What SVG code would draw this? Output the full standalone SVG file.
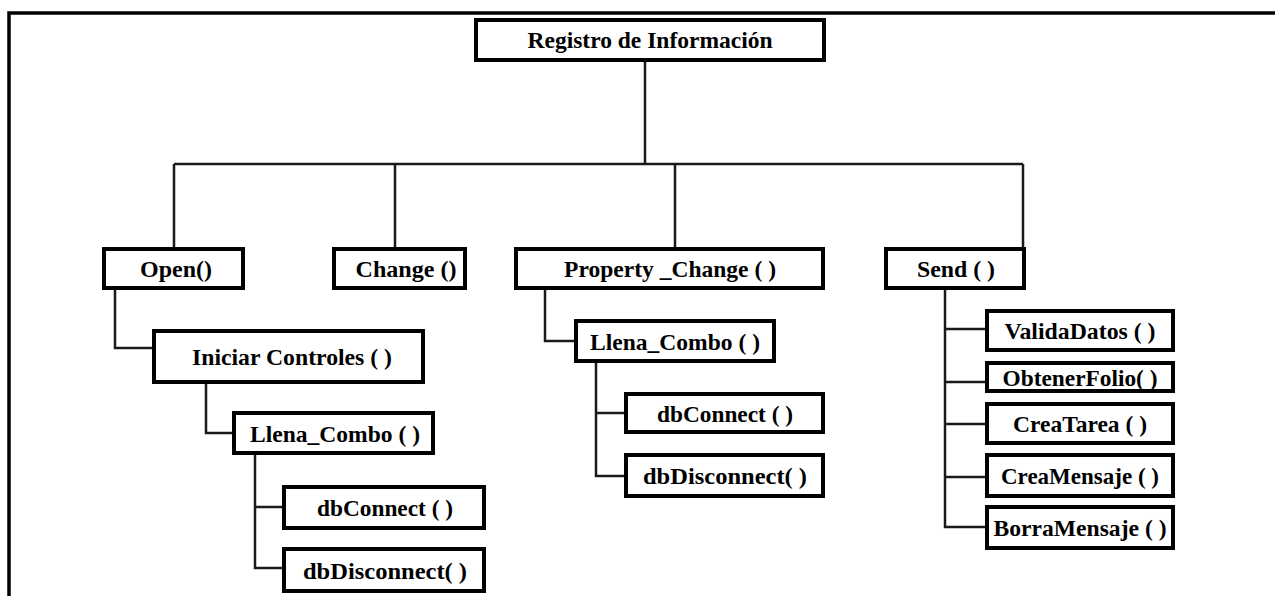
<svg xmlns="http://www.w3.org/2000/svg" width="1275" height="596" viewBox="0 0 1275 596">
  <style>
    .box { fill: #ffffff; stroke: #000000; stroke-width: 4; }
    .lbl { font-family: "Liberation Serif", "Times New Roman", serif; font-weight: bold; font-size: 24px; fill: #000000; text-anchor: middle; }
    .wire { fill: none; stroke: #1a1a1a; stroke-width: 2.5; }
    .frame { fill: none; stroke: #000000; stroke-width: 3.5; }
  </style>
  <rect x="0" y="0" width="1275" height="596" fill="#ffffff"/>
  <!-- page frame -->
  <path class="frame" d="M9,596 V13 H1275"/>

  <!-- connectors -->
  <g id="connectors">
    <path class="wire" d="M645,62 V164"/>
    <path class="wire" d="M174,164 H1023" stroke-width="3"/>
    <path class="wire" d="M174,164 V247 M395,164 V247 M675,164 V247 M1023,164 V247"/>
    <!-- Open branch -->
    <path class="wire" d="M115,290 V348 H153"/>
    <path class="wire" d="M206,384 V433 H233"/>
    <path class="wire" d="M255,455 V568 H283 M255,507 H283"/>
    <!-- Property_Change branch -->
    <path class="wire" d="M545,290 V341 H575"/>
    <path class="wire" d="M596,363 V476 H626 M596,413 H626"/>
    <!-- Send branch -->
    <path class="wire" d="M945,290 V527 H985 M945,329 H985 M945,382 H985 M945,424 H985 M945,477 H985"/>
  </g>

  <g id="root">
    <rect class="box" x="476" y="20" width="348" height="40"/>
    <text class="lbl" x="650" y="48" textLength="245" lengthAdjust="spacingAndGlyphs">Registro de Información</text>
  </g>
  <g id="open">
    <rect class="box" x="104" y="249" width="139" height="39"/>
    <text class="lbl" x="176" y="277" textLength="72" lengthAdjust="spacingAndGlyphs">Open()</text>
  </g>
  <g id="change">
    <rect class="box" x="334" y="249" width="131" height="39"/>
    <text class="lbl" x="406" y="277" textLength="101" lengthAdjust="spacingAndGlyphs">Change ()</text>
  </g>
  <g id="property-change">
    <rect class="box" x="516" y="249" width="307" height="39"/>
    <text class="lbl" x="670" y="277" textLength="212" lengthAdjust="spacingAndGlyphs">Property _Change ( )</text>
  </g>
  <g id="send">
    <rect class="box" x="886" y="249" width="138" height="39"/>
    <text class="lbl" x="956" y="277" textLength="78" lengthAdjust="spacingAndGlyphs">Send ( )</text>
  </g>

  <g id="iniciar-controles">
    <rect class="box" x="154" y="331" width="269" height="51"/>
    <text class="lbl" x="292" y="365" textLength="200" lengthAdjust="spacingAndGlyphs">Iniciar Controles ( )</text>
  </g>
  <g id="llena-combo-1">
    <rect class="box" x="234" y="413" width="199" height="40"/>
    <text class="lbl" x="335" y="442" textLength="170" lengthAdjust="spacingAndGlyphs">Llena_Combo ( )</text>
  </g>
  <g id="dbconnect-1">
    <rect class="box" x="284" y="487" width="200" height="41"/>
    <text class="lbl" x="385" y="516" textLength="136" lengthAdjust="spacingAndGlyphs">dbConnect ( )</text>
  </g>
  <g id="dbdisconnect-1">
    <rect class="box" x="284" y="549" width="200" height="42"/>
    <text class="lbl" x="385" y="579" textLength="164" lengthAdjust="spacingAndGlyphs">dbDisconnect( )</text>
  </g>

  <g id="llena-combo-2">
    <rect class="box" x="576" y="321" width="198" height="40"/>
    <text class="lbl" x="675" y="350" textLength="170" lengthAdjust="spacingAndGlyphs">Llena_Combo ( )</text>
  </g>
  <g id="dbconnect-2">
    <rect class="box" x="626" y="394" width="197" height="38"/>
    <text class="lbl" x="725" y="422" textLength="136" lengthAdjust="spacingAndGlyphs">dbConnect ( )</text>
  </g>
  <g id="dbdisconnect-2">
    <rect class="box" x="626" y="455" width="197" height="41"/>
    <text class="lbl" x="725" y="484" textLength="164" lengthAdjust="spacingAndGlyphs">dbDisconnect( )</text>
  </g>

  <g id="valida-datos">
    <rect class="box" x="987" y="311" width="186" height="39"/>
    <text class="lbl" x="1080" y="339" textLength="151" lengthAdjust="spacingAndGlyphs">ValidaDatos ( )</text>
  </g>
  <g id="obtener-folio">
    <rect class="box" x="987" y="363" width="186" height="28"/>
    <text class="lbl" x="1080" y="386" textLength="155" lengthAdjust="spacingAndGlyphs">ObtenerFolio( )</text>
  </g>
  <g id="crea-tarea">
    <rect class="box" x="987" y="404" width="186" height="39"/>
    <text class="lbl" x="1080" y="432" textLength="134" lengthAdjust="spacingAndGlyphs">CreaTarea ( )</text>
  </g>
  <g id="crea-mensaje">
    <rect class="box" x="987" y="455" width="186" height="41"/>
    <text class="lbl" x="1080" y="484" textLength="158" lengthAdjust="spacingAndGlyphs">CreaMensaje ( )</text>
  </g>
  <g id="borra-mensaje">
    <rect class="box" x="987" y="507" width="186" height="41"/>
    <text class="lbl" x="1080" y="536" textLength="173" lengthAdjust="spacingAndGlyphs">BorraMensaje ( )</text>
  </g>
</svg>
